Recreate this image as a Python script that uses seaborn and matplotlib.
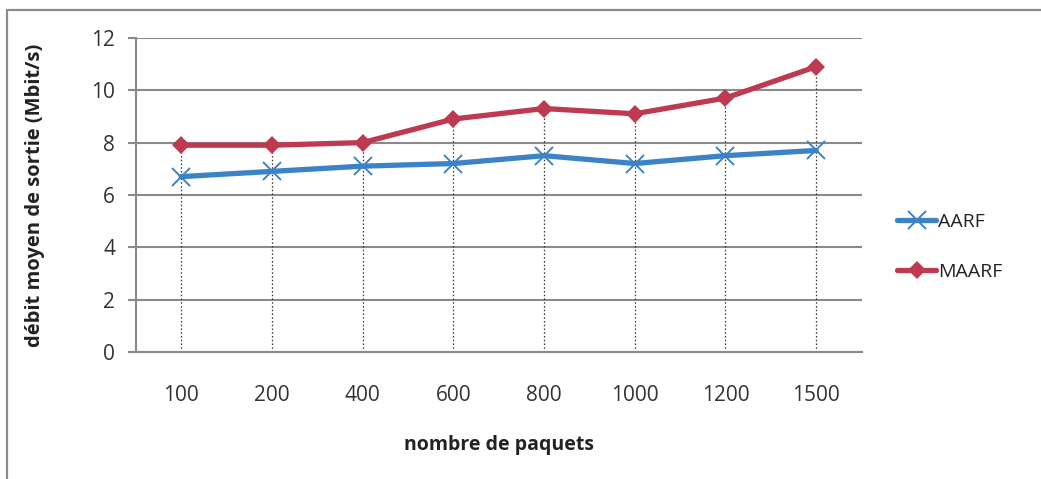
import numpy as np
import pandas as pd
import matplotlib
matplotlib.use("Agg")
import matplotlib.pyplot as plt
import seaborn as sns

# données
paquets = ["100", "200", "400", "600", "800", "1000", "1200", "1500"]
aarf = [6.7, 6.9, 7.1, 7.2, 7.5, 7.2, 7.5, 7.7]
maarf = [7.9, 7.9, 8.0, 8.9, 9.3, 9.1, 9.7, 10.9]
y_ticks = [0, 2, 4, 6, 8, 10, 12]

df = pd.DataFrame({
    "paquets": paquets * 2,
    "debit": aarf + maarf,
    "protocole": ["AARF"] * len(paquets) + ["MAARF"] * len(paquets),
})

sns.set_style("white")
plt.rcParams["font.family"] = ["Open Sans", "DejaVu Sans"]

fig = plt.figure(figsize=(10.41, 4.79), dpi=100)
ax = fig.add_axes([0.1306, 0.265, 0.697, 0.656])

# cadre extérieur gris
fig.patches.append(plt.Rectangle((0.007, -0.05), 1.05, 1.03, transform=fig.transFigure,
                                 fill=False, edgecolor="#8c8c8c", linewidth=1.6))

couleurs = {"AARF": "#3b83c6", "MAARF": "#bd3a50"}
marqueurs = {"AARF": dict(marker="x", markersize=13, markeredgewidth=1.4),
             "MAARF": dict(marker="D", markersize=9, markeredgewidth=0)}
for nom in ["AARF", "MAARF"]:
    sub = df[df["protocole"] == nom]
    sns.lineplot(data=sub, x="paquets", y="debit", color=couleurs[nom], label=nom,
                 linewidth=3.8, ax=ax, zorder=3, markeredgecolor=couleurs[nom],
                 markerfacecolor=couleurs[nom], **marqueurs[nom])

# lignes verticales pointillées
pos = np.arange(len(paquets))
ax.vlines(pos, 0, maarf, colors="#333333", linestyles=(0, (1.2, 1.8)), linewidth=0.9, zorder=2)

ax.set_ylim(0, 12)
ax.set_xlim(-0.5, len(paquets) - 0.5)
ax.set_yticks(y_ticks)
ax.yaxis.grid(True, color="#8a8a8a", linewidth=1.5)
ax.xaxis.grid(False)
for s in ["top", "right"]:
    ax.spines[s].set_visible(False)
ax.spines["left"].set_color("#8a8a8a")
ax.spines["bottom"].set_color("#8a8a8a")
ax.spines["left"].set_linewidth(1.5)
ax.spines["bottom"].set_linewidth(1.5)
ax.tick_params(axis="y", left=True, length=6, color="#8a8a8a", width=1.5, labelsize=15,
               labelcolor="#333333", pad=9)
ax.tick_params(axis="x", bottom=False, labelsize=15, labelcolor="#333333", pad=20)

ax.set_xlabel("nombre de paquets", fontsize=14, fontweight="bold", color="#222222", labelpad=21)
ax.set_ylabel("débit moyen de sortie (Mbit/s)", fontsize=14.5, fontweight="bold",
              color="#222222", labelpad=33)

leg = ax.legend(loc="center left", bbox_to_anchor=(1.025, 0.334), frameon=False,
                fontsize=14, handlelength=2.0, handletextpad=0.1, labelspacing=1.65)
for t in leg.get_texts():
    t.set_color("#222222")

fig.savefig("out.png", dpi=100)
